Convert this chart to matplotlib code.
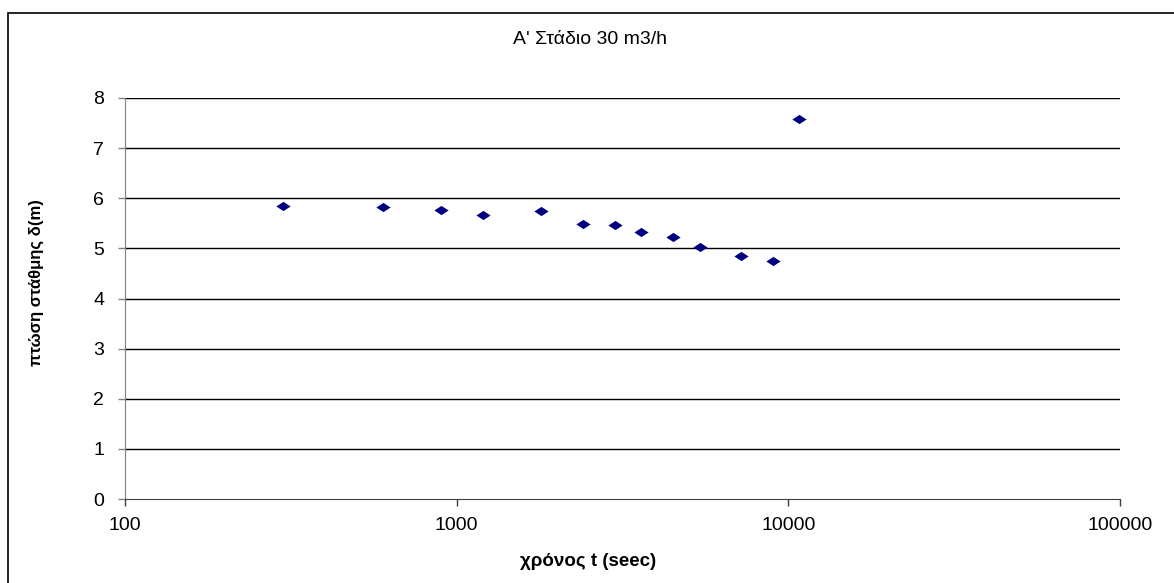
import matplotlib
matplotlib.use("Agg")
import matplotlib.pyplot as plt
from matplotlib.patches import Rectangle

plt.rcParams['font.family'] = ['Liberation Sans', 'DejaVu Sans']

# time (sec) and drawdown s (m)
t_sec = [300, 600, 900, 1200, 1800, 2400, 3000, 3600, 4500, 5400, 7200, 9000, 10800]
drawdown = [5.85, 5.83, 5.77, 5.66, 5.74, 5.49, 5.47, 5.33, 5.22, 5.02, 4.85, 4.75, 7.58]
y_ticks = [0, 1, 2, 3, 4, 5, 6, 7, 8]
x_ticks = [100, 1000, 10000, 100000]

fig = plt.figure(figsize=(11.74, 5.83), dpi=100)
ax = fig.add_axes([125 / 1174, 1 - 499 / 583, 995 / 1174, 401 / 583])

# squat excel-style diamond
diamond = [(-1, 0), (0, 0.65), (1, 0), (0, -0.65), (-1, 0)]
ax.scatter(t_sec, drawdown, marker=diamond, s=105, color='#000080', zorder=3, linewidths=0)

ax.set_xscale('log')
ax.set_xlim(100, 100000)
ax.set_ylim(0, 8)
ax.set_xticks(x_ticks)
ax.set_xticklabels([str(v) for v in x_ticks])
ax.minorticks_off()
ax.set_yticks(y_ticks)
ax.set_yticklabels([str(v) for v in y_ticks])

# horizontal gridlines
for v in y_ticks[1:]:
    ax.axhline(v, color='black', lw=1, zorder=1)

for side in ['top', 'right']:
    ax.spines[side].set_visible(False)
ax.spines['left'].set_color('#808080')
ax.spines['bottom'].set_color('#404040')
ax.tick_params(axis='both', direction='out', length=5, width=1, labelsize=14, colors='black')
ax.tick_params(axis='y', color='#808080', pad=10)
ax.tick_params(axis='x', color='#404040', pad=8)

fig.text(590 / 1174, 1 - 40 / 583, "Α' Στάδιο 30 m3/h", ha='center', va='center', fontsize=14)
fig.text(588 / 1174, 1 - 561 / 583, "χρόνος t (seec)", ha='center', va='center',
         fontsize=13.5, fontweight='bold')
fig.text(36 / 1174, 1 - 283 / 583, "πτώση στάθμης δ(m)", ha='center', va='center',
         rotation=90, fontsize=12, fontweight='bold')

# outer chart border (right/bottom edges lie off the image)
fig.patches.append(Rectangle((8 / 1174, -0.1), 1.2, 1 - 13 / 583 + 0.1,
                             transform=fig.transFigure, fill=False,
                             edgecolor='black', lw=1.2))

fig.savefig("out.png", dpi=100)
